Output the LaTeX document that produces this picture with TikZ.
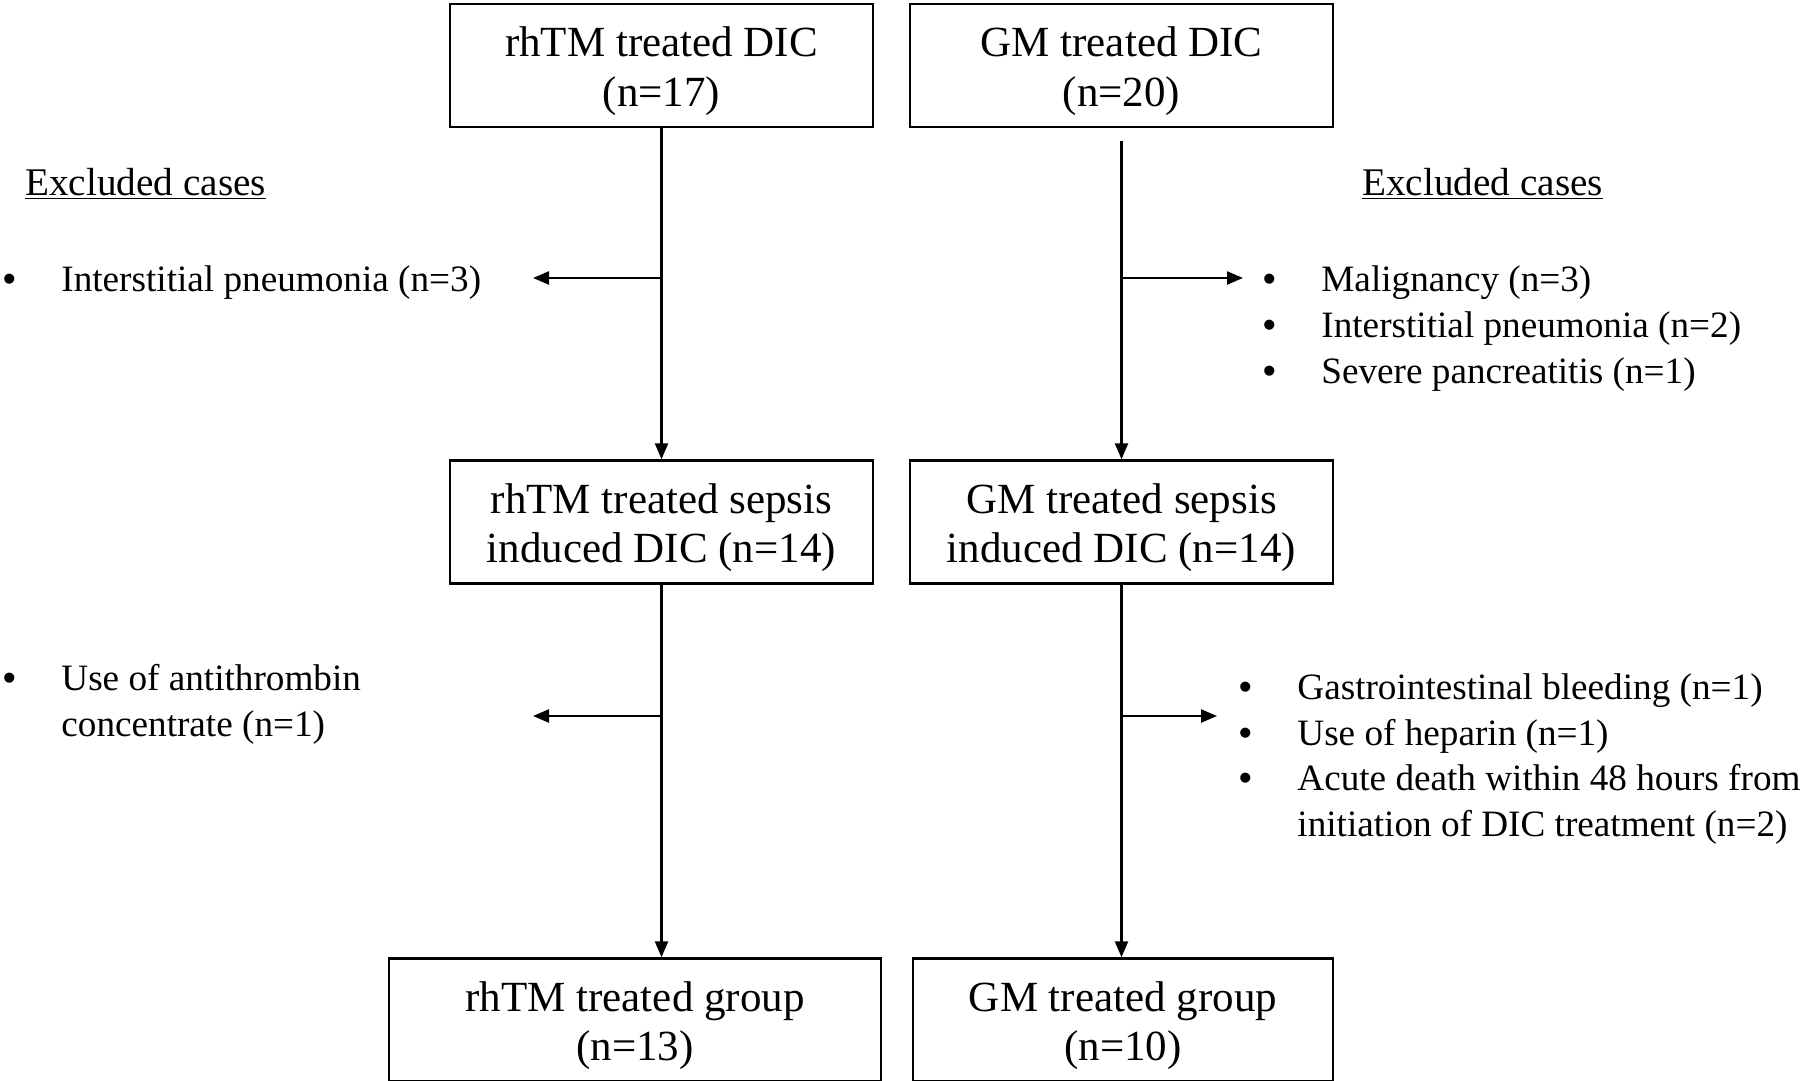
\documentclass[tikz,border=0pt]{standalone}
\usepackage{fontspec}
\setmainfont{Liberation Serif}
\newfontfamily\bulfont{Liberation Sans}
\usetikzlibrary{arrows.meta}
\begin{document}
\begin{tikzpicture}[x=0.5pt,y=-0.5pt,
  box/.style={draw, line width=1.2pt, minimum width=211.5pt, minimum height=61.5pt, inner sep=0pt, align=center, font=\fontsize{21.5}{24.75}\selectfont},
  item/.style={anchor=base west, inner sep=0pt, font=\fontsize{18.6}{23}\selectfont},
  head/.style={anchor=base west, inner sep=0pt, font=\fontsize{19.6}{23}\selectfont},
  arr/.style={line width=1.2pt, -{Triangle[length=8pt,width=6.5pt]}}]
\useasboundingbox (0,0) rectangle (1804,1081);
\newcommand{\dn}{\rule{0pt}{20.7pt}}
% boxes
\node[box] (b1) at (661.5,65.5) {\dn rhTM treated DIC\\(n=17)};
\node[box] (b2) at (1121.5,65.5) {\dn GM treated DIC\\(n=20)};
\node[box] (b3) at (661.5,522) {\dn rhTM treated sepsis\\induced DIC (n=14)};
\node[box] (b4) at (1121.5,522) {\dn GM treated sepsis\\induced DIC (n=14)};
\node[box, minimum width=246pt] (b5) at (635,1020) {\dn rhTM treated group\\(n=13)};
\node[box, minimum width=210pt] (b6) at (1123,1020) {\dn GM treated group\\(n=10)};
% vertical arrows
\draw[arr] (b1.south) -- (b3.north);
\draw[arr] ([yshift=-6.5pt]b2.south) -- (b4.north);
\draw[arr] (b3.south) -- (b3.south |- b5.north);
\draw[arr] (b4.south) -- (b4.south |- b6.north);
% branch arrows
\coordinate (j1) at (661.5,278);
\coordinate (t1) at (533,278);
\coordinate (j2) at (1121.5,278);
\coordinate (t2) at (1243,278);
\coordinate (j3) at (661.5,716);
\coordinate (t3) at (533,716);
\coordinate (j4) at (1121.5,716);
\coordinate (t4) at (1217,716);
\draw[arr] (j1) -- (t1);
\draw[arr] (j2) -- (t2);
\draw[arr] (j3) -- (t3);
\draw[arr] (j4) -- (t4);
% excluded headings
\node[head] (h1) at (25,195) {\underline{Excluded cases}};
\node[head] (h2) at (1362,195) {\underline{Excluded cases}};
% lists
\newcommand{\bul}{\makebox[29.25pt][l]{\bulfont\textbullet}}
\node[item] (l1a) at (2.5,291) {\bul Interstitial pneumonia (n=3)};
\node[item] (r1a) at (1262.5,291) {\bul Malignancy (n=3)};
\node[item] (r1b) at (1262.5,337) {\bul Interstitial pneumonia (n=2)};
\node[item] (r1c) at (1262.5,383) {\bul Severe pancreatitis (n=1)};
\node[item] (l2a) at (2.5,690) {\bul Use of antithrombin};
\node[item] (l2b) at (2.5,736) {\hspace*{29.25pt}concentrate (n=1)};
\node[item] (r2a) at (1238.5,699) {\bul Gastrointestinal bleeding (n=1)};
\node[item] (r2b) at (1238.5,745) {\bul Use of heparin (n=1)};
\node[item] (r2c) at (1238.5,790) {\bul Acute death within 48 hours from};
\node[item] (r2d) at (1238.5,836) {\hspace*{29.25pt}initiation of DIC treatment (n=2)};
\end{tikzpicture}
\end{document}
